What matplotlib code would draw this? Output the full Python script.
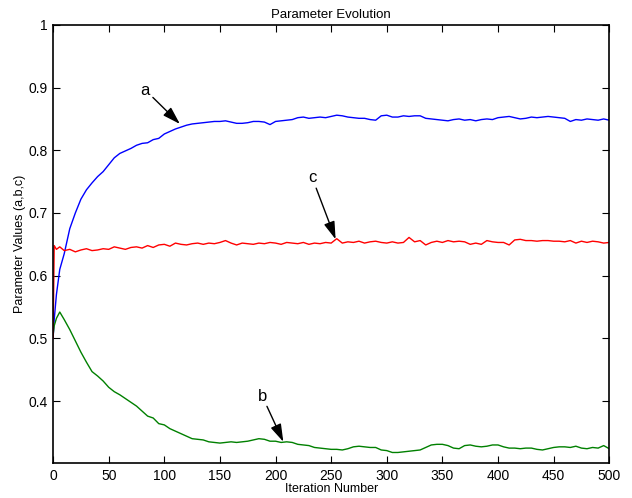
import numpy as np
import matplotlib
matplotlib.use("Agg")
import matplotlib.pyplot as plt

plt.rcParams["font.family"] = ["Liberation Sans", "DejaVu Sans"]

iters = [0, 1, 3, 6] + list(range(10, 501, 5))

a_vals = [0.500, 0.530, 0.570, 0.610,
          0.635, 0.675, 0.700, 0.722, 0.737, 0.748, 0.758, 0.766, 0.777, 0.788,
          0.795, 0.799, 0.803, 0.808, 0.811, 0.812, 0.817, 0.819, 0.826, 0.830,
          0.834, 0.837, 0.840, 0.842, 0.843, 0.844, 0.845, 0.846, 0.846, 0.847,
          0.845, 0.843, 0.843, 0.844, 0.846, 0.846, 0.845, 0.841, 0.846, 0.847,
          0.848, 0.849, 0.852, 0.853, 0.851, 0.852, 0.853, 0.852, 0.854, 0.856,
          0.855, 0.853, 0.852, 0.851, 0.851, 0.849, 0.848, 0.855, 0.856, 0.853,
          0.853, 0.855, 0.854, 0.855, 0.855, 0.851, 0.850, 0.849, 0.848, 0.847,
          0.849, 0.850, 0.848, 0.849, 0.847, 0.849, 0.850, 0.849, 0.852, 0.853,
          0.854, 0.852, 0.850, 0.851, 0.853, 0.852, 0.853, 0.854, 0.853, 0.852,
          0.851, 0.846, 0.849, 0.848, 0.850, 0.849, 0.848, 0.850, 0.848]

b_vals = [0.505, 0.520, 0.532, 0.542,
          0.530, 0.514, 0.496, 0.478, 0.462, 0.447, 0.440, 0.432, 0.422, 0.415,
          0.410, 0.404, 0.398, 0.392, 0.384, 0.376, 0.373, 0.364, 0.362, 0.356,
          0.352, 0.348, 0.344, 0.340, 0.339, 0.338, 0.335, 0.334, 0.333, 0.334,
          0.335, 0.334, 0.335, 0.336, 0.338, 0.340, 0.339, 0.336, 0.336, 0.334,
          0.335, 0.334, 0.331, 0.330, 0.329, 0.326, 0.325, 0.324, 0.323, 0.323,
          0.322, 0.324, 0.327, 0.328, 0.327, 0.326, 0.326, 0.322, 0.321, 0.318,
          0.318, 0.319, 0.320, 0.321, 0.322, 0.326, 0.330, 0.331, 0.331, 0.329,
          0.325, 0.324, 0.329, 0.330, 0.328, 0.327, 0.328, 0.330, 0.330, 0.327,
          0.325, 0.325, 0.324, 0.325, 0.325, 0.323, 0.322, 0.324, 0.326, 0.327,
          0.327, 0.326, 0.328, 0.325, 0.324, 0.326, 0.325, 0.329, 0.324]

c_vals = [0.500, 0.648, 0.642, 0.646,
          0.640, 0.642, 0.638, 0.641, 0.643, 0.640, 0.641, 0.643, 0.642, 0.646,
          0.644, 0.642, 0.645, 0.646, 0.644, 0.648, 0.645, 0.649, 0.650, 0.647,
          0.652, 0.650, 0.649, 0.651, 0.652, 0.650, 0.652, 0.651, 0.653, 0.656,
          0.652, 0.649, 0.652, 0.651, 0.650, 0.652, 0.651, 0.653, 0.652, 0.650,
          0.653, 0.652, 0.651, 0.653, 0.650, 0.652, 0.651, 0.653, 0.652, 0.659,
          0.652, 0.654, 0.653, 0.655, 0.652, 0.654, 0.655, 0.653, 0.652, 0.654,
          0.652, 0.653, 0.661, 0.654, 0.656, 0.649, 0.653, 0.655, 0.653, 0.656,
          0.654, 0.655, 0.654, 0.650, 0.652, 0.650, 0.656, 0.654, 0.653, 0.653,
          0.649, 0.657, 0.658, 0.656, 0.656, 0.655, 0.656, 0.656, 0.655, 0.655,
          0.654, 0.656, 0.652, 0.655, 0.653, 0.655, 0.654, 0.652, 0.653]

fig = plt.figure(figsize=(6.32, 4.98), dpi=100, facecolor='w')
ax = fig.add_axes([0.084, 0.070, 0.880, 0.880])

ax.plot(iters, a_vals, color=(0, 0, 1), lw=1.0)
ax.plot(iters, b_vals, color=(0, 0.5, 0), lw=1.0)
ax.plot(iters, c_vals, color=(1, 0, 0), lw=1.0)

arrow = dict(arrowstyle='-|>,head_length=0.9,head_width=0.28', color='k', lw=1.0,
             shrinkA=0, shrinkB=0)
ax.annotate('a', xy=(114, 0.842), xytext=(83, 0.896), fontsize=12,
            ha='center', va='center', arrowprops=arrow)
ax.annotate('c', xy=(254, 0.658), xytext=(233, 0.756), fontsize=12,
            ha='center', va='center', arrowprops=arrow)
ax.annotate('b', xy=(207, 0.335), xytext=(188, 0.408), fontsize=12,
            ha='center', va='center', arrowprops=arrow)

ax.set_xlim(0, 500)
ax.set_ylim(0.301, 1.0)
ax.set_xticks(np.arange(0, 501, 50))
ax.set_yticks([0.4, 0.5, 0.6, 0.7, 0.8, 0.9, 1.0])
ax.set_yticklabels(['0.4', '0.5', '0.6', '0.7', '0.8', '0.9', '1'])
ax.tick_params(direction='in', top=True, right=True, length=5, width=0.8,
               labelsize=10, pad=4)
for s in ax.spines.values():
    s.set_linewidth(1.2)

ax.set_title('Parameter Evolution', fontsize=9.5, pad=5)
ax.set_xlabel('Iteration Number', fontsize=9, labelpad=0)
ax.set_ylabel('Parameter Values (a,b,c)', fontsize=9, labelpad=2)

fig.savefig('out.png', dpi=100)
